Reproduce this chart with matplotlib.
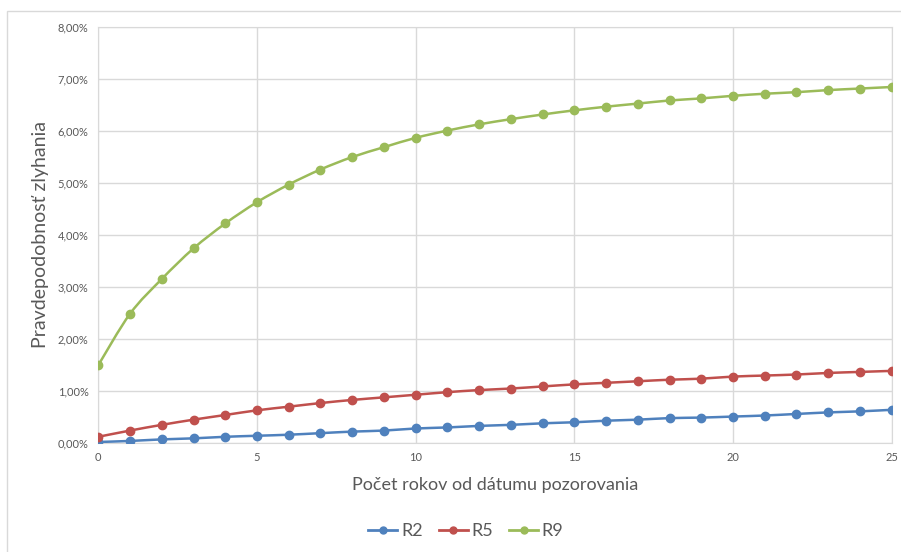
import numpy as np
import matplotlib
matplotlib.use("Agg")
import matplotlib.pyplot as plt
from matplotlib.path import Path
from matplotlib.patches import PathPatch, Rectangle
from matplotlib.lines import Line2D
from matplotlib.ticker import FuncFormatter

plt.rcParams['font.family'] = ['Lato', 'DejaVu Sans']

years = list(range(26))

# default probability (%) per rating grade
r2 = [0.01, 0.03, 0.06, 0.08, 0.11, 0.13, 0.15, 0.18, 0.21, 0.23, 0.27, 0.29, 0.32,
      0.34, 0.37, 0.39, 0.42, 0.44, 0.47, 0.48, 0.50, 0.52, 0.55, 0.58, 0.60, 0.63]
r5 = [0.11, 0.23, 0.34, 0.44, 0.53, 0.62, 0.69, 0.76, 0.82, 0.87, 0.92, 0.97, 1.01,
      1.04, 1.08, 1.12, 1.15, 1.18, 1.21, 1.23, 1.27, 1.29, 1.31, 1.34, 1.36, 1.38]
r9 = [1.49, 2.48, 3.15, 3.74, 4.22, 4.63, 4.97, 5.26, 5.50, 5.69, 5.87, 6.01, 6.13,
      6.23, 6.32, 6.40, 6.47, 6.53, 6.59, 6.63, 6.68, 6.72, 6.75, 6.79, 6.82, 6.85]

series = [("R2", r2, "#4f81bd"), ("R5", r5, "#c0504d"), ("R9", r9, "#9bbb59")]


def smooth_path(x, y, t=1/6):
    # cubic Bezier through the points (Excel-like smoothed line)
    x = np.asarray(x, float)
    y = np.asarray(y, float)
    verts = [(x[0], y[0])]
    codes = [Path.MOVETO]
    n = len(x)
    for i in range(n - 1):
        x0, y0 = (x[i - 1], y[i - 1]) if i > 0 else (x[i], y[i])
        x3, y3 = (x[i + 2], y[i + 2]) if i + 2 < n else (x[i + 1], y[i + 1])
        c1 = (x[i] + t * (x[i + 1] - x0), y[i] + t * (y[i + 1] - y0))
        c2 = (x[i + 1] - t * (x3 - x[i]), y[i + 1] - t * (y3 - y[i]))
        verts += [c1, c2, (x[i + 1], y[i + 1])]
        codes += [Path.CURVE4] * 3
    return Path(verts, codes)


fig = plt.figure(figsize=(9.01, 5.52), dpi=100)
fig.patches.append(Rectangle((7 / 901, -0.1), 1.2, 1 - 11 / 552 + 0.1,
                             transform=fig.transFigure, fill=False,
                             edgecolor="#d9d9d9", linewidth=1))
ax = fig.add_axes([98.3 / 901, (552 - 442.5) / 552, (891.7 - 98.3) / 901, (442.5 - 27.3) / 552])

for name, vals, color in series:
    ax.add_patch(PathPatch(smooth_path(years, vals), facecolor="none",
                           edgecolor=color, linewidth=1.8, zorder=3))
    ax.plot(years, vals, linestyle="none", marker="o", markersize=6,
            color=color, zorder=4)

ax.set_xlim(0, 25)
ax.set_ylim(0, 8)
ax.set_xticks(range(0, 26, 5))
ax.set_yticks(range(0, 9))
ax.yaxis.set_major_formatter(FuncFormatter(lambda v, p: f"{v:.2f}%".replace(".", ",")))
ax.grid(True, color="#d9d9d9", linewidth=1)
ax.set_axisbelow(True)
for side in ["top", "right", "left", "bottom"]:
    ax.spines[side].set_color("#d9d9d9")
ax.tick_params(length=0, labelsize=8, colors="#595959", pad=7)

ax.set_xlabel("Počet rokov od dátumu pozorovania", fontsize=13, color="#595959", labelpad=10)
ax.set_ylabel("Pravdepodobnosť zlyhania", fontsize=14, color="#595959", labelpad=6)

handles = [Line2D([0], [0], color=c, linewidth=2, marker="o", markersize=5) for _, _, c in series]
fig.legend(handles, [s[0] for s in series], loc="center", bbox_to_anchor=(466 / 901, 1 - 531 / 552),
           ncol=3, frameon=False, fontsize=13, handlelength=1.6, handletextpad=0.2,
           columnspacing=0.9, labelcolor="#595959")

fig.savefig("out.png", dpi=100)
